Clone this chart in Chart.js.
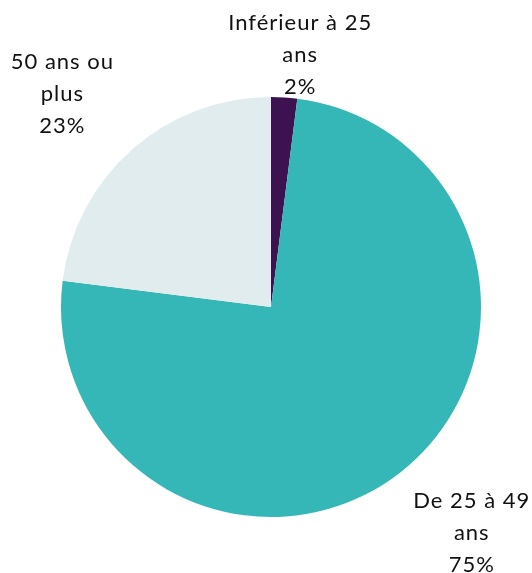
<!DOCTYPE html>
<html>
<head>
<meta charset="utf-8">
<script src="https://cdn.jsdelivr.net/npm/chart.js@4"></script>
<style>
  html, body { margin: 0; padding: 0; background: #fff; }
  #wrap { width: 532px; height: 573px; }
</style>
</head>
<body>
<div id="wrap"><canvas id="myChart" width="532" height="573"></canvas></div>
<script>
// age groups and their share (%)
const categories = ['Inférieur à 25 ans', 'De 25 à 49 ans', '50 ans ou plus'];
const labelLines = [['Inférieur à 25', 'ans'], ['De 25 à 49', 'ans'], ['50 ans ou', 'plus']];
const shares = [2, 75, 23];

const colors = ['#3d1250', '#35b7b8', '#e1ecee'];
// how far out each label sits (in radii) and a small angle nudge (deg)
const labelDist = [1.21, 1.44, 1.42];
const labelNudge = [3, -3.8, -3];

const outsideLabels = {
    id: 'outsideLabels',
    afterDraw(chart) {
        const ctx = chart.ctx;
        const meta = chart.getDatasetMeta(0);
        ctx.save();
        ctx.fillStyle = '#111';
        ctx.font = '22px Lato';
        ctx.letterSpacing = '1px';
        ctx.textAlign = 'center';
        ctx.textBaseline = 'middle';
        meta.data.forEach((arc, i) => {
            const p = arc.getProps(['x', 'y', 'startAngle', 'endAngle', 'outerRadius'], true);
            const mid = (p.startAngle + p.endAngle) / 2 + labelNudge[i] * Math.PI / 180;
            const cx = p.x + Math.cos(mid) * p.outerRadius * labelDist[i];
            const cy = p.y + Math.sin(mid) * p.outerRadius * labelDist[i];
            const lines = labelLines[i].concat([shares[i] + '%']);
            const lh = 32;
            lines.forEach((t, k) => {
                ctx.fillText(t, cx, cy + (k - (lines.length - 1) / 2) * lh);
            });
        });
        ctx.restore();
    }
};

const ctx = document.getElementById('myChart').getContext('2d');
const myChart = new Chart(ctx, {
    type: 'pie',
    data: {
        labels: categories,
        datasets: [{
            data: shares,
            backgroundColor: colors,
            borderWidth: 0
        }]
    },
    options: {
        responsive: false,
        animation: false,
        layout: { padding: { top: 97, bottom: 56, left: 61, right: 51 } },
        plugins: {
            legend: { display: false },
            tooltip: { enabled: false }
        }
    },
    plugins: [outsideLabels]
});
</script>
</body>
</html>
